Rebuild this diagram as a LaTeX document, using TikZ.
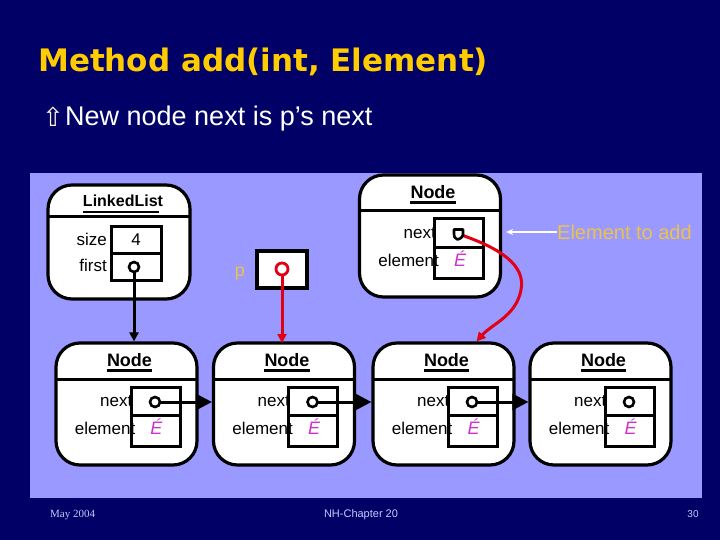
\documentclass[tikz,border=0pt]{standalone}
\usepackage{fontspec}
\setmainfont{Liberation Sans}
\newfontfamily\titlefont{DejaVu Sans}
\newfontfamily\serfont{Liberation Serif}
\usetikzlibrary{arrows.meta,calc}
\definecolor{navy}{RGB}{0,0,102}
\definecolor{panel}{RGB}{153,153,255}
\definecolor{titleyel}{RGB}{255,204,0}
\definecolor{gold}{RGB}{235,195,75}
\definecolor{magel}{RGB}{204,51,204}
\definecolor{foot}{RGB}{200,200,255}
\definecolor{redp}{RGB}{225,0,20}
\definecolor{cream}{RGB}{255,245,215}
\tikzset{
 nodebox/.style={draw=black, line width=3.2pt, fill=white, rounded corners=24pt, minimum width=141pt, minimum height=122pt, inner sep=0pt},
 fieldbox/.style={draw=black, line width=3pt},
 sepline/.style={line width=3pt},
 lbl/.style={font=\fontsize{17}{17}\selectfont, inner sep=0pt},
 ttl/.style={font=\bfseries\fontsize{18}{18}\selectfont, inner sep=0pt},
 elem/.style={text=magel, font=\itshape\fontsize{18}{18}\selectfont, inner sep=0pt},
 ptrdot/.style={draw=black, line width=2.6pt, fill=white, circle, minimum size=10pt, inner sep=0pt},
 reddot/.style={draw=redp, line width=2.8pt, fill=white, circle, minimum size=12pt, inner sep=0pt},
 nextarrow/.style={line width=3pt, -{Triangle[length=16pt,width=16pt]}},
 downarrow/.style={line width=3pt, -{Triangle[length=9pt,width=9pt]}},
 redline/.style={draw=redp, line width=3pt, -{Triangle[length=9pt,width=9pt]}},
 goldtext/.style={text=gold, inner sep=0pt},
 foottext/.style={text=foot, inner sep=0pt},
}
\newcommand\datanode[2]{%
 \node[nodebox] (#1) at (#2) {};
 \begin{scope}[shift={(#2)}]
  \draw[sepline] (-70.5,-25) -- (70.5,-25);
  \node[ttl] (#1-t) at (3,-44) {Node};
  \draw[line width=2.4pt] ($(#1-t.base west)+(0,4)$) -- ($(#1-t.base east)+(0,4)$);
  \draw[fieldbox] (4.5,-17) rectangle (53.5,42);
  \draw[fieldbox] (4.5,11) -- (53.5,11);
  \node[lbl,anchor=base east] (#1-nx) at (6,2) {next};
  \node[lbl,anchor=base east] (#1-el) at (9,30) {element};
  \node[elem,anchor=base] (#1-e) at (30,30) {É};
  \coordinate (#1-ptr) at (28.5,-2);
 \end{scope}}
\begin{document}
\begin{tikzpicture}[x=1pt,y=-1pt]
\useasboundingbox (0,0) rectangle (720,540);
\fill[navy] (0,0) rectangle (720,540);
\fill[panel] (30,173) rectangle (702,498);
% title
\node[anchor=base west, inner sep=0pt, text=titleyel, font=\titlefont\bfseries\fontsize{31}{31}\selectfont] (title) at (38,72) {Method add(int, Element)};
\node[anchor=base west, inner sep=0pt, text=cream, font=\titlefont\fontsize{26}{26}\selectfont] (bullet) at (42,127) {⇧};
\node[anchor=base west, inner sep=0pt, text=white, font=\fontsize{27}{27}\selectfont] (sub) at (65,126) {New node next is p’s next};
% LinkedList
\node[draw=black, line width=3.2pt, fill=white, rounded corners=24pt, minimum width=142pt, minimum height=114pt] (ll) at (119,242) {};
\draw[sepline] (48,217) -- (190,217);
\node[inner sep=0pt, font=\bfseries\fontsize{16}{16}\selectfont] (llt) at (123,201) {LinkedList};
\draw[line width=2.4pt] ($(llt.base west)+(0,5)$) -- ($(llt.base east)+(-4,5)$);
\draw[fieldbox] (111,227) rectangle (161,280);
\draw[fieldbox] (111,253) -- (161,253);
\node[lbl,anchor=base east] (sz) at (107,245) {size};
\node[lbl,anchor=base east] (fs) at (107,271) {first};
\node[lbl,anchor=base] (four) at (136,245) {4};
\coordinate (ll-ptr) at (134,267);
% nodes
\datanode{tn}{430,236}
\datanode{n1}{126.5,404}
\datanode{n2}{284,404}
\datanode{n3}{443.5,404}
\datanode{n4}{600.5,404}
% p
\node[goldtext, font=\fontsize{18}{18}\selectfont, anchor=base] (plbl) at (240,276) {p};
\node[draw=black, line width=3.2pt, fill=white, minimum width=50pt, minimum height=37pt, inner sep=0pt] (pbox) at (282,269.5) {};
% connectors
\draw[downarrow] (ll-ptr) -- (ll-ptr |- n1.north);
\draw[redline] (282,269) -- (282,343);
\node[reddot] (pdot) at (282,269) {};
\draw[nextarrow] (n1-ptr) -- (n2.west |- n1-ptr);
\draw[nextarrow] (n2-ptr) -- (n3.west |- n2-ptr);
\draw[nextarrow] (n3-ptr) -- (n4.west |- n3-ptr);
\foreach \n in {n1,n2,n3,n4,ll} \node[ptrdot] at (\n-ptr) {};
% new node pointer and red curve
\coordinate (turn) at (521,290);
\coordinate (n3in) at ($(n3.north)+(33,0)$);
\draw[redline] (tn-ptr) .. controls (500,248) and (526,265) .. (turn) .. controls (516,316) and (492,324) .. (n3in);
\draw[line width=2.6pt, fill=white, line join=round] ($(tn-ptr)+(-4.5,-4.5)$) -- ($(tn-ptr)+(4.5,-4.5)$) -- ($(tn-ptr)+(4.5,1)$) .. controls ($(tn-ptr)+(3,4)$) .. ($(tn-ptr)+(-1,5.5)$) .. controls ($(tn-ptr)+(-4.5,3)$) .. ($(tn-ptr)+(-4.5,0)$) -- cycle;
% element to add
\node[goldtext, font=\fontsize{20}{20}\selectfont, anchor=west] (ea) at (557,232) {Element to add};
\draw[white, line width=1.6pt, -{Stealth[length=7pt,width=6pt]}, shorten >=4pt] (ea.west) -- (tn.east |- ea.west);
% footer
\node[foottext, font=\serfont\fontsize{11}{11}\selectfont, anchor=base west] (f1) at (50,517) {May 2004};
\node[foottext, font=\fontsize{11}{11}\selectfont, anchor=base] (f2) at (361,517) {NH-Chapter 20};
\node[foottext, font=\fontsize{10}{10}\selectfont, anchor=base] (f3) at (693,517) {30};
\end{tikzpicture}
\end{document}
